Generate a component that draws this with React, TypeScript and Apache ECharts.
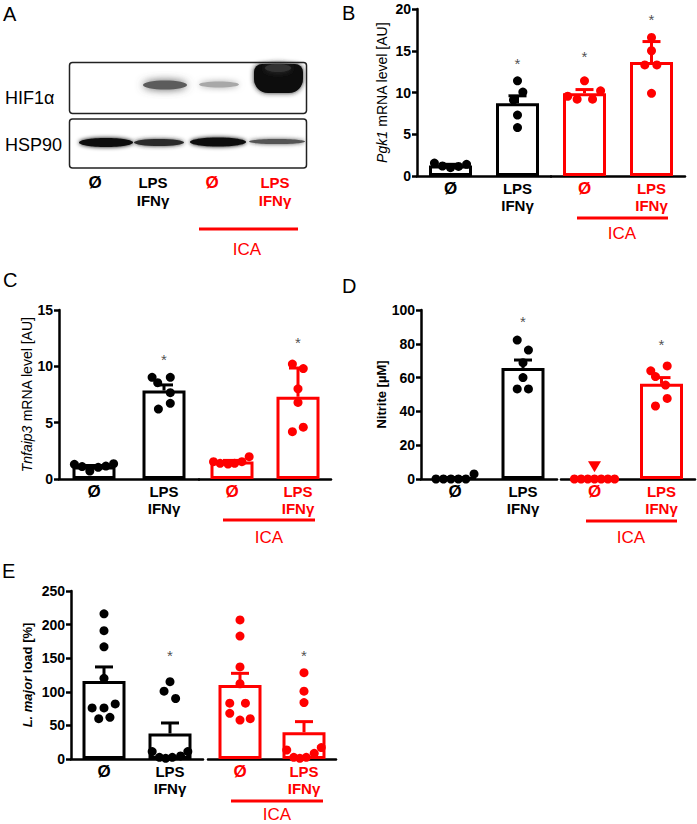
import React, { useEffect, useRef } from 'react';
import * as echarts from 'echarts';

const FONT = "'Liberation Sans', Arial, Helvetica, sans-serif";
const BLACK = '#000000';
const RED = '#ff0000';

const groupLabels = ['Ø', 'LPS\nIFNγ'];

// Panel B: Pgk1 mRNA level [AU]  ([group, jitter, value])
const pgk1Mean = [1.25, 8.7, 9.9, 13.65];
const pgk1Upper = [1.4, 9.6, 10.35, 16.1];
const pgk1Points = [
  [0, -0.24, 1.55], [0, -0.12, 1.2], [0, 0, 1.0], [0, 0.12, 1.15], [0, 0.24, 1.4],
  [1, 0, 11.4], [1, 0.08, 10.05], [1, -0.06, 9.1], [1, 0, 7.3], [1, 0, 5.8],
  [2, 0, 11.4], [2, -0.25, 9.55], [2, -0.11, 9.2], [2, 0.12, 9.2], [2, 0.24, 10.2],
  [3, 0, 16.6], [3, 0, 15.0], [3, -0.1, 13.3], [3, 0.08, 13.3], [3, 0, 9.9],
];
const pgk1Stars = [[1, 13.8], [2, 14.7], [3, 19.1]];

// Panel C: Tnfaip3 mRNA level [AU]
const tnfMean = [1.1, 7.85, 1.55, 7.3];
const tnfUpper = [1.2, 8.35, 1.65, 9.85];
const tnfPoints = [
  [0, -0.28, 1.3], [0, -0.17, 1.1], [0, -0.06, 0.7], [0, 0.06, 1.04], [0, 0.17, 1.15], [0, 0.28, 1.36],
  [1, -0.17, 9.02], [1, 0.09, 9.02], [1, -0.09, 8.55], [1, 0.09, 7.66], [1, 0.09, 6.72], [1, -0.08, 6.21],
  [2, -0.28, 1.54], [2, -0.18, 1.39], [2, -0.06, 1.33], [2, 0.04, 1.39], [2, 0.15, 1.54], [2, 0.26, 1.98],
  [3, -0.085, 10.2], [3, 0.08, 9.8], [3, 0, 8.0], [3, 0, 6.8], [3, 0.08, 4.6], [3, -0.085, 4.2],
];
const tnfStars = [[1, 10.9], [3, 12.4]];

// Panel D: Nitrite [µM]
const nitriteMean = [0.5, 65.7, 0, 56.3];
const nitriteUpper = [0.9, 70.4, 0, 60.0];
const nitritePoints = [
  [0, -0.28, 0], [0, -0.17, 0], [0, -0.06, 0], [0, 0.05, 0], [0, 0.16, 0], [0, 0.28, 3],
  [1, -0.085, 82.2], [1, 0.08, 76.3], [1, 0, 68.8], [1, 0, 60], [1, -0.085, 53.3], [1, 0.08, 53.3],
  [2, -0.3, 0], [2, -0.2, 0], [2, -0.1, 0], [2, 0, 0], [2, 0.1, 0], [2, 0.2, 0], [2, 0.3, 0],
  [3, -0.16, 64], [3, 0.085, 66.9], [3, -0.09, 60.6], [3, 0.06, 55.6], [3, 0.085, 47.7], [3, -0.09, 43.2],
];
const nitriteStars = [[1, 95], [3, 81.3]];
const nitriteMarkers = [[2, 0, 7.3]];

// Panel E: L. major load [%]
const loadMean = [116, 38, 110, 39.8];
const loadUpper = [137, 53.6, 127.5, 55.6];
const loadPoints = [
  [0, 0, 216], [0, 0, 191], [0, 0, 167], [0, 0, 120], [0, -0.18, 76], [0, 0, 76], [0, 0.17, 82], [0, -0.08, 60], [0, 0.09, 62],
  [1, 0, 115], [1, -0.09, 101], [1, 0.085, 90], [1, -0.27, 11], [1, -0.16, 2.5], [1, -0.065, 1], [1, 0.035, 2.5], [1, 0.16, 4.5], [1, 0.27, 11],
  [2, 0, 207], [2, 0, 183], [2, 0, 137], [2, 0, 112], [2, -0.16, 83], [2, 0.085, 83], [2, -0.16, 68], [2, 0, 58], [2, 0.16, 60],
  [3, 0, 128.5], [3, 0, 101], [3, 0, 84], [3, -0.27, 13.4], [3, -0.16, 2.5], [3, -0.065, 1], [3, 0.035, 2.5], [3, 0.16, 8.4], [3, 0.27, 17],
];
const loadStars = [[1, 158], [3, 158]];

const panels = [
  { top: 9, height: 167, sides: [[417, 134], [551, 134]], yMax: 20, yStep: 5, name: '{i|Pgk1} mRNA level [AU]', nameGap: 28, nameWeight: 'normal', nameSize: 14, mean: pgk1Mean, upper: pgk1Upper, points: pgk1Points, stars: pgk1Stars, markers: [] as number[][] },
  { top: 310, height: 169, sides: [[59, 140], [199, 132]], yMax: 15, yStep: 5, name: '{i|Tnfaip3} mRNA level [AU]', nameGap: 25, nameWeight: 'normal', nameSize: 14, mean: tnfMean, upper: tnfUpper, points: tnfPoints, stars: tnfStars, markers: [] as number[][] },
  { top: 310, height: 169, sides: [[421, 136], [561, 134]], yMax: 100, yStep: 20, name: 'Nitrite [µM]', nameGap: 32, nameWeight: 'bold', nameSize: 13, mean: nitriteMean, upper: nitriteUpper, points: nitritePoints, stars: nitriteStars, markers: nitriteMarkers },
  { top: 591, height: 168, sides: [[71, 132], [208, 128]], yMax: 250, yStep: 50, name: '{i|L. major} load [%]', nameGap: 37, nameWeight: 'bold', nameSize: 13, mean: loadMean, upper: loadUpper, points: loadPoints, stars: loadStars, markers: [] as number[][] },
];

function txt(text: string, x: number, y: number, opts: any = {}) {
  return {
    type: 'text',
    x,
    y,
    style: {
      text,
      fill: opts.fill || BLACK,
      fontSize: opts.fontSize || 15,
      fontWeight: opts.fontWeight || 'normal',
      fontFamily: FONT,
      lineHeight: opts.lineHeight,
      textAlign: opts.align || 'center',
      textVerticalAlign: 'middle',
      align: opts.align || 'center',
      verticalAlign: 'middle',
    },
  };
}

function redLine(x1: number, x2: number, y: number) {
  return { type: 'line', shape: { x1, y1: y, x2, y2: y }, style: { stroke: RED, lineWidth: 3 } };
}

function band(cx: number, cy: number, rx: number, ry: number, fill: string, blur: number) {
  return { type: 'ellipse', shape: { cx, cy, rx, ry }, style: { fill, shadowBlur: blur, shadowColor: fill } };
}

function buildOption() {
  const grid: any[] = [];
  const xAxis: any[] = [];
  const yAxis: any[] = [];
  const series: any[] = [];

  panels.forEach((p) => {
    p.sides.forEach(([left, width], s) => {
      const color = s === 0 ? BLACK : RED;
      const gi = grid.length;
      grid.push({ left, top: p.top, width, height: p.height });
      const cx = xAxis.length;
      xAxis.push({
        type: 'category',
        gridIndex: gi,
        data: groupLabels,
        axisLine: { show: true, onZero: false, lineStyle: { color: BLACK, width: 2.5 } },
        axisTick: { show: false },
        splitLine: { show: false },
        axisLabel: {
          interval: 0,
          color,
          fontFamily: FONT,
          fontWeight: 'bold',
          fontSize: 15,
          lineHeight: 17,
          margin: 4,
          formatter: (v: string) => (v === 'Ø' ? '{o|Ø}' : v),
          rich: { o: { fontFamily: FONT, fontWeight: 'bold', fontSize: 17, color, lineHeight: 17 } },
        },
      });
      const vx = xAxis.length;
      xAxis.push({ type: 'value', gridIndex: gi, min: -0.5, max: 1.5, show: false, axisLine: { onZero: false } });
      const yi = yAxis.length;
      yAxis.push({
        type: 'value',
        gridIndex: gi,
        min: 0,
        max: p.yMax,
        interval: p.yStep,
        show: s === 0,
        splitLine: { show: false },
        axisLine: { show: true, onZero: false, lineStyle: { color: BLACK, width: 2.5 } },
        axisTick: { show: true, length: 5, lineStyle: { color: BLACK, width: 2.5 } },
        axisLabel: { color: BLACK, fontFamily: FONT, fontWeight: 'bold', fontSize: 14, margin: 6 },
        name: s === 0 ? p.name : '',
        nameLocation: 'middle',
        nameRotate: 90,
        nameGap: p.nameGap,
        nameTextStyle: {
          color: BLACK,
          fontFamily: FONT,
          fontSize: p.nameSize,
          fontWeight: p.nameWeight,
          rich: { i: { fontStyle: 'italic', fontFamily: FONT, fontSize: p.nameSize, fontWeight: p.nameWeight, color: BLACK } },
        },
      });

      const means = p.mean.slice(2 * s, 2 * s + 2);
      const uppers = p.upper.slice(2 * s, 2 * s + 2);

      series.push({
        type: 'bar',
        xAxisIndex: cx,
        yAxisIndex: yi,
        data: means,
        barWidth: 43,
        itemStyle: { color: '#ffffff', borderColor: color, borderWidth: 3 },
        z: 2,
      });

      const errData = means
        .map((m, i) => [i, m, uppers[i]])
        .filter((d) => d[2] > d[1]);
      series.push({
        type: 'custom',
        xAxisIndex: cx,
        yAxisIndex: yi,
        data: errData,
        encode: { x: 0, y: [1, 2] },
        z: 3,
        renderItem: (_params: any, api: any) => {
          const x = api.value(0);
          const p0 = api.coord([x, api.value(1)]);
          const p1 = api.coord([x, api.value(2)]);
          const hw = 9;
          return {
            type: 'group',
            children: [
              { type: 'line', shape: { x1: p0[0], y1: p0[1], x2: p1[0], y2: p1[1] }, style: { stroke: color, lineWidth: 3 } },
              { type: 'line', shape: { x1: p1[0] - hw, y1: p1[1], x2: p1[0] + hw, y2: p1[1] }, style: { stroke: color, lineWidth: 3 } },
            ],
          };
        },
      });

      series.push({
        type: 'scatter',
        xAxisIndex: vx,
        yAxisIndex: yi,
        clip: false,
        symbol: 'circle',
        symbolSize: 9,
        itemStyle: { color, opacity: 1 },
        z: 4,
        data: p.points.filter((d) => Math.floor(d[0] / 2) === s).map((d) => [(d[0] % 2) + d[1], d[2]]),
      });

      const mk = p.markers.filter((d) => Math.floor(d[0] / 2) === s);
      if (mk.length) {
        series.push({
          type: 'scatter',
          xAxisIndex: vx,
          yAxisIndex: yi,
          clip: false,
          symbol: 'triangle',
          symbolRotate: 180,
          symbolSize: [13, 11],
          itemStyle: { color, opacity: 1 },
          z: 4,
          data: mk.map((d) => [(d[0] % 2) + d[1], d[2]]),
        });
      }

      series.push({
        type: 'scatter',
        xAxisIndex: vx,
        yAxisIndex: yi,
        clip: false,
        symbolSize: 1,
        itemStyle: { color: 'rgba(0,0,0,0)' },
        z: 4,
        label: { show: true, position: 'inside', formatter: '*', color: '#222', fontFamily: FONT, fontSize: 15, offset: [0, 3] },
        data: p.stars.filter((d) => Math.floor(d[0] / 2) === s).map((d) => [d[0] % 2, d[1]]),
      });
    });
  });

  const graphic: any[] = [
    // panel letters
    txt('A', 3, 14, { fontSize: 20, align: 'left' }),
    txt('B', 342, 13, { fontSize: 20, align: 'left' }),
    txt('C', 3, 280, { fontSize: 20, align: 'left' }),
    txt('D', 342, 286, { fontSize: 20, align: 'left' }),
    txt('E', 2, 571, { fontSize: 20, align: 'left' }),
    // western blot
    { type: 'rect', shape: { x: 69.5, y: 62.5, width: 237, height: 51, r: 3 }, style: { fill: '#ffffff', stroke: '#222', lineWidth: 1.5 } },
    { type: 'rect', shape: { x: 69.5, y: 119, width: 237, height: 49, r: 3 }, style: { fill: '#ffffff', stroke: '#222', lineWidth: 1.5 } },
    band(165, 85, 22, 4.5, '#5c5c5c', 8),
    band(219, 84.5, 20, 3, '#a8a8a8', 6),
    { type: 'rect', shape: { x: 254, y: 64, width: 49, height: 29, r: [8, 8, 14, 14] }, style: { fill: '#0c0c0c', shadowBlur: 5, shadowColor: '#222' } },
    band(278, 68, 13, 4, '#333', 6),
    band(106, 142.5, 27, 4.5, '#111', 4),
    band(159, 142.5, 25, 3.5, '#2a2a2a', 4),
    band(218, 142, 28, 4.5, '#111', 4),
    band(277, 141.5, 28, 2.6, '#555', 4),
    txt('HIF1α', 5, 98, { fontSize: 18, align: 'left' }),
    txt('HSP90', 5, 145, { fontSize: 18, align: 'left' }),
    txt('Ø', 95, 182, { fontWeight: 'bold', fontSize: 17 }),
    txt('LPS\nIFNγ', 153, 191, { fontWeight: 'bold', lineHeight: 18 }),
    txt('Ø', 212, 182, { fontWeight: 'bold', fill: RED, fontSize: 17 }),
    txt('LPS\nIFNγ', 275, 191, { fontWeight: 'bold', lineHeight: 18, fill: RED }),
    redLine(199, 298, 229),
    txt('ICA', 247, 249, { fontSize: 17, fill: RED }),
    // ICA markers
    redLine(577, 668, 218),
    txt('ICA', 622, 233, { fontSize: 17, fill: RED }),
    redLine(223, 315, 520),
    txt('ICA', 269, 537, { fontSize: 17, fill: RED }),
    redLine(586, 677, 521),
    txt('ICA', 631, 537, { fontSize: 17, fill: RED }),
    redLine(231, 323, 801),
    txt('ICA', 277, 814, { fontSize: 17, fill: RED }),
  ];

  return {
    animation: false,
    backgroundColor: '#ffffff',
    textStyle: { fontFamily: FONT },
    grid,
    xAxis,
    yAxis,
    series,
    graphic,
  };
}

export default function App() {
  const ref = useRef<HTMLDivElement>(null);
  useEffect(() => {
    document.body.style.margin = '0';
    if (!ref.current) return;
    const chart = echarts.init(ref.current, undefined, { renderer: 'svg' });
    chart.setOption(buildOption() as any);
    return () => chart.dispose();
  }, []);
  return <div ref={ref} style={{ width: 697, height: 824 }} />;
}
